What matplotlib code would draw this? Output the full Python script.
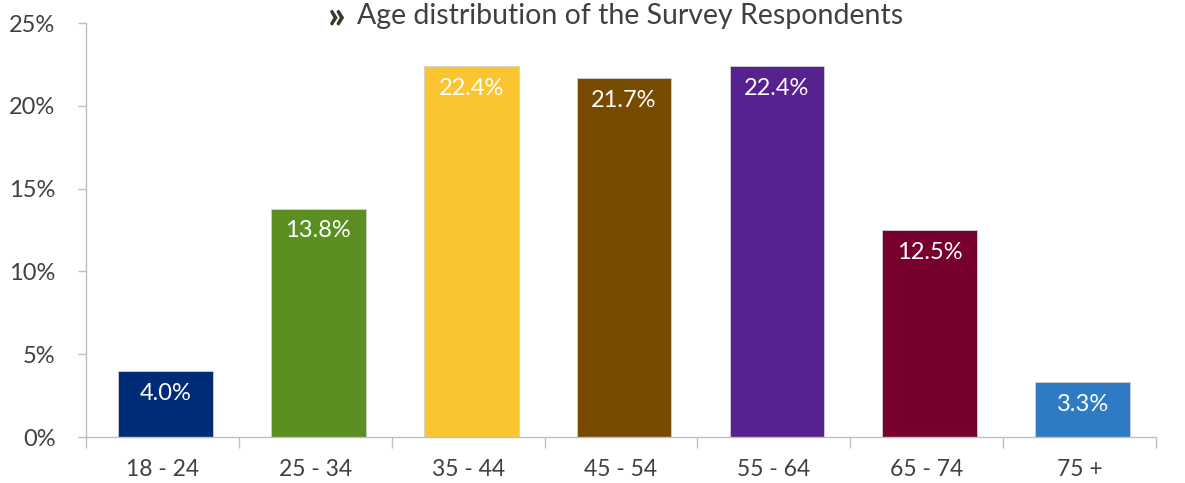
import matplotlib.pyplot as plt
import numpy as np

# data
age_groups = ["18 - 24", "25 - 34", "35 - 44", "45 - 54", "55 - 64", "65 - 74", "75 +"]
share = [4.0, 13.8, 22.4, 21.7, 22.4, 12.5, 3.3]
bar_colors = ["#002C77", "#5B8F22", "#FBC531", "#774C00", "#57218F", "#78002E", "#2E7BC4"]
y_ticks = [0, 5, 10, 15, 20, 25]

plt.rcParams['font.family'] = ['Lato', 'DejaVu Sans']
TXT = "#404040"
AX = "#BFBFBF"

fig = plt.figure(figsize=(11.85, 4.83), dpi=100)
ax = fig.add_axes([0.0726, 0.0952, 0.9029, 0.8568])

x = np.arange(len(age_groups))
bars = ax.bar(x + 0.02, share, width=0.62, color=bar_colors, edgecolor="#D0D0D0", linewidth=0.6)

for xi, v in zip(x + 0.02, share):
    ax.text(xi, v - 1.35, f"{v:.1f}%", ha="center", va="center",
            color="white", fontsize=17)

ax.set_xlim(-0.5, len(age_groups) - 0.5)
ax.set_ylim(0, 25)

ax.set_yticks(y_ticks)
ax.set_yticklabels([f"{t}%" for t in y_ticks])
ax.set_xticks(x)
ax.set_xticklabels(age_groups)
ax.set_xticks(np.arange(-0.5, len(age_groups)), minor=True)

ax.tick_params(axis="y", length=6, width=1, color=AX, pad=16, labelsize=17, labelcolor=TXT)
ax.tick_params(axis="x", which="major", length=0, pad=16, labelsize=16.5, labelcolor=TXT)
ax.tick_params(axis="x", which="minor", length=8, width=1, color=AX)

for s in ["top", "right"]:
    ax.spines[s].set_visible(False)
for s in ["left", "bottom"]:
    ax.spines[s].set_color(AX)
    ax.spines[s].set_linewidth(1)

fig.text(0.277, 0.966, "»", fontsize=27, fontweight="black", color="#3A3A2A",
         ha="left", va="center")
fig.text(0.301, 0.966, "Age distribution of the Survey Respondents", fontsize=20.5,
         color=TXT, ha="left", va="center")

fig.savefig("out.png", dpi=100)
